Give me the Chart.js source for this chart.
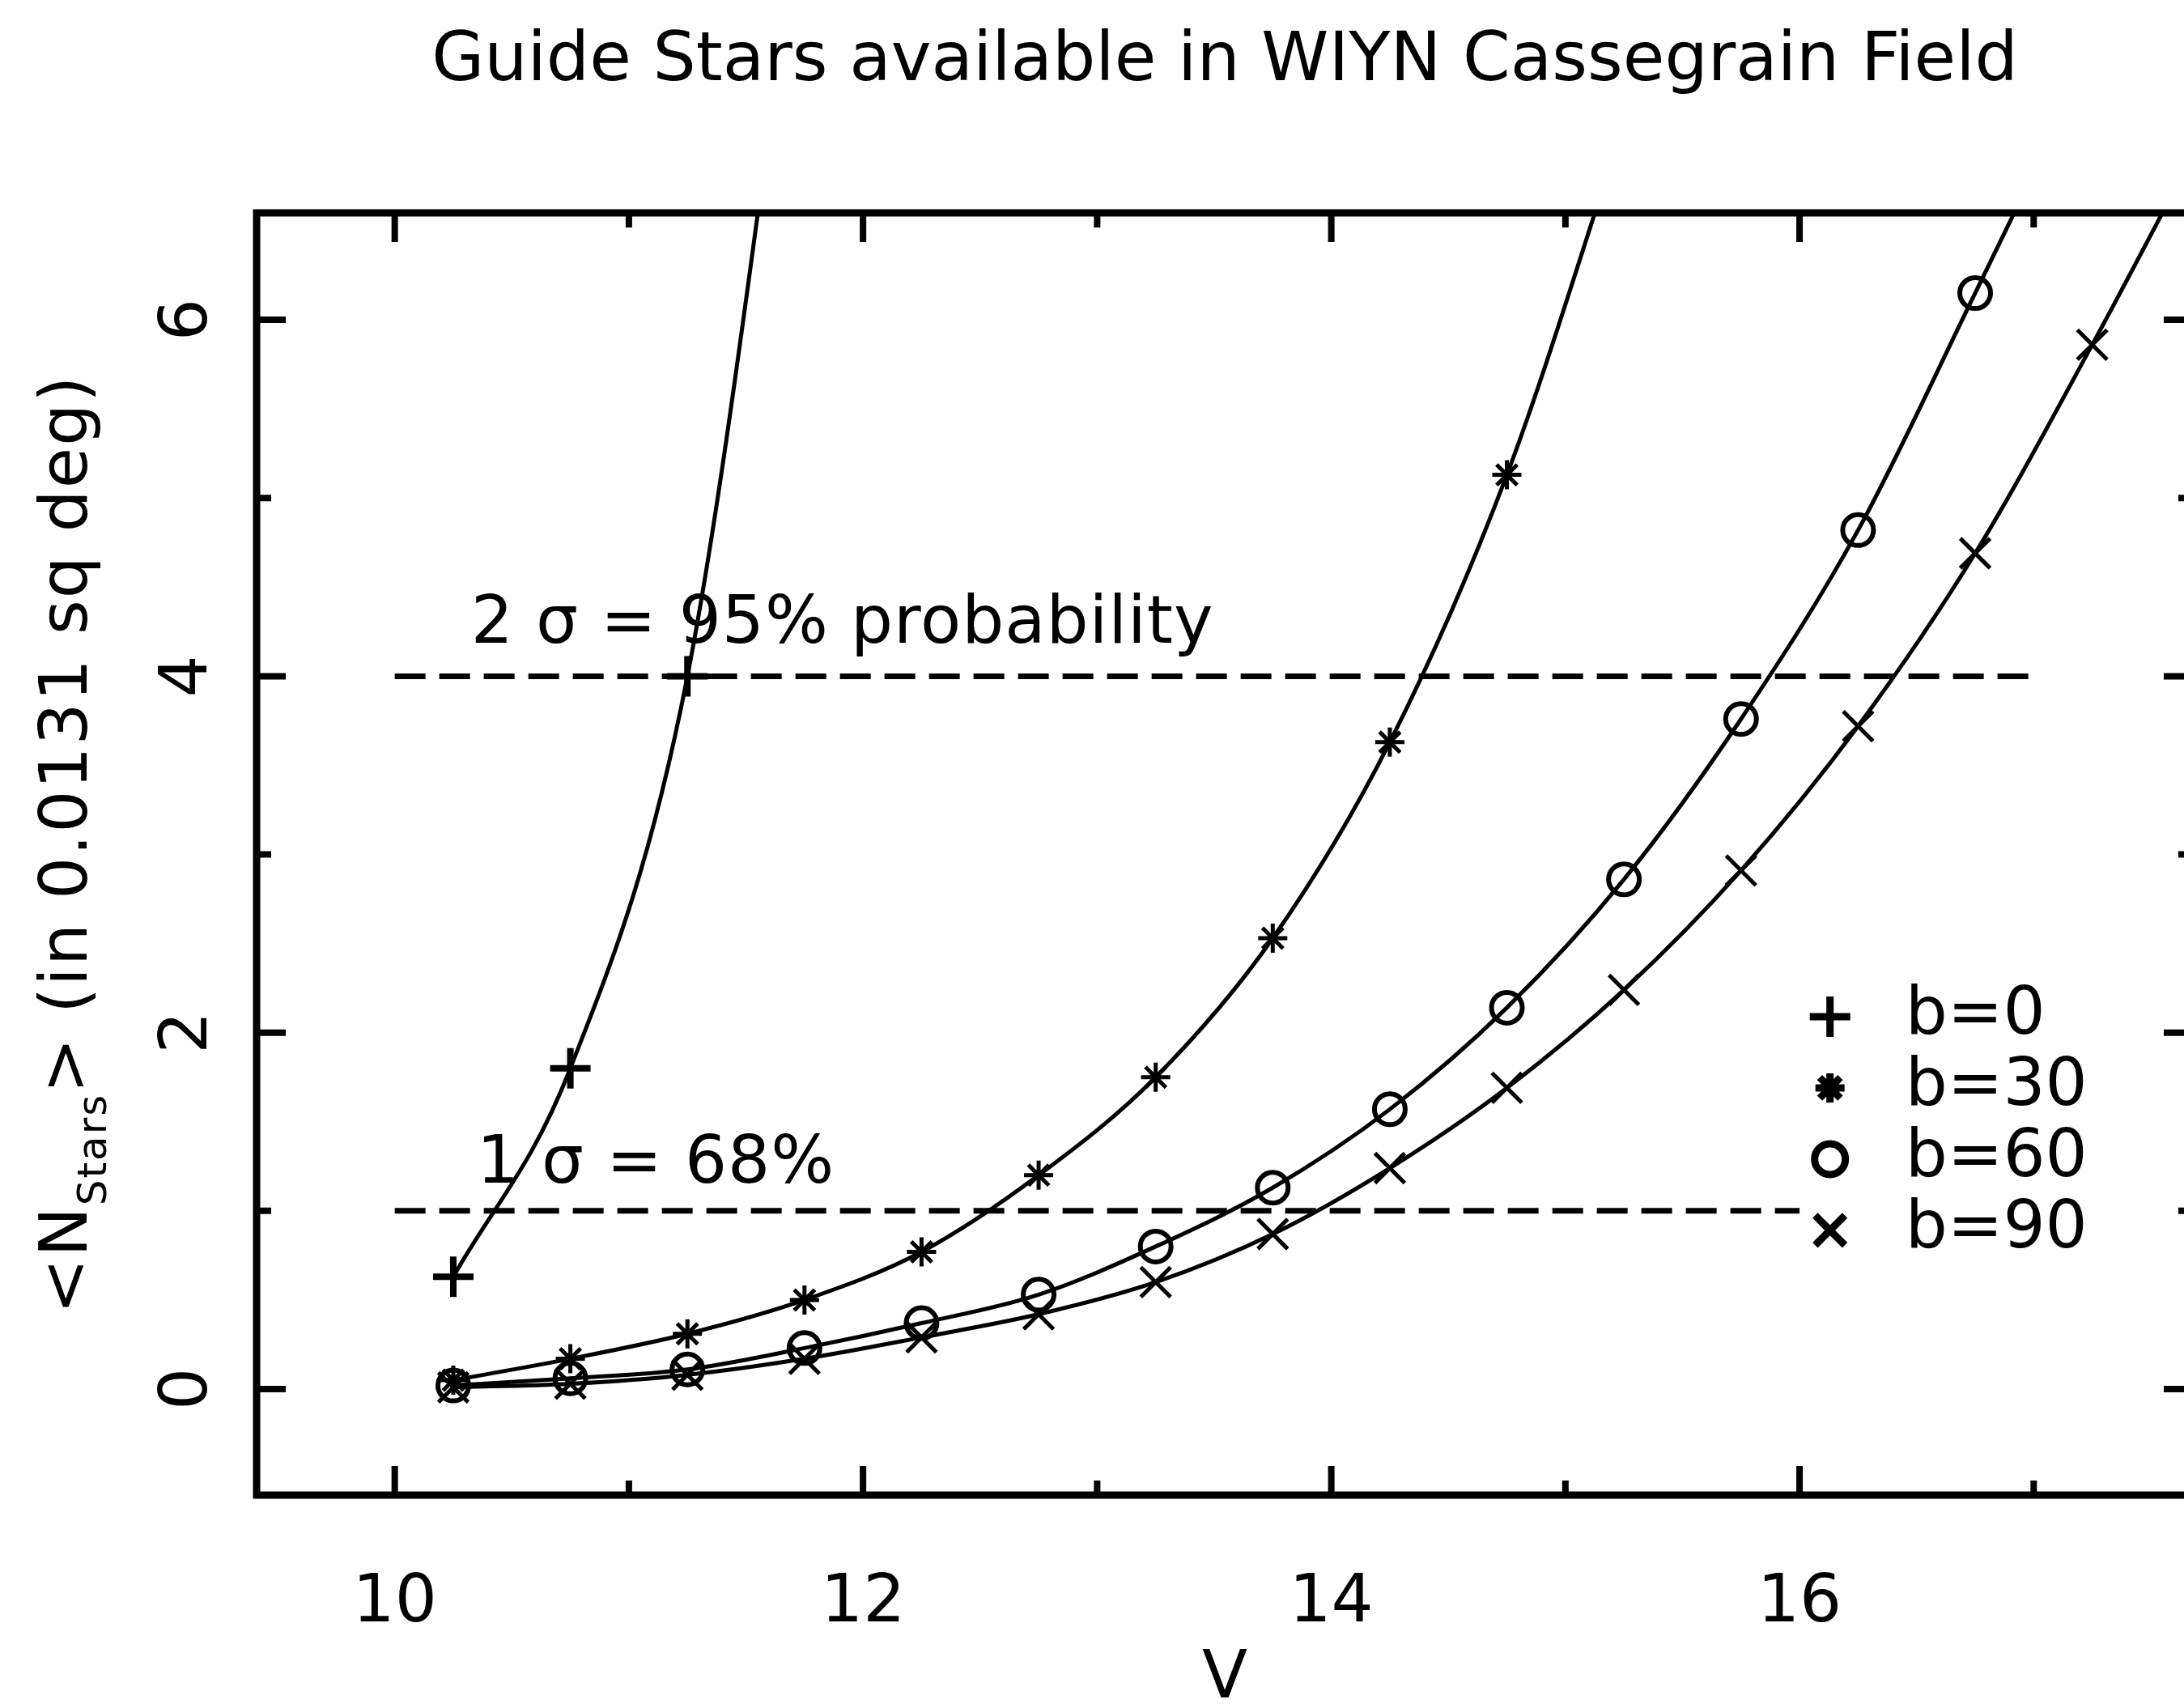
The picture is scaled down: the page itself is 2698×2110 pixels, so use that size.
<!DOCTYPE html>
<html>
<head>
<meta charset="utf-8">
<title>Guide Stars available in WIYN Cassegrain Field</title>
<script src="https://cdn.jsdelivr.net/npm/chart.js@4.4.1/dist/chart.umd.min.js"></script>
<style>
  html, body { margin: 0; padding: 0; background: #fff; overflow: hidden; }
  #wrap { width: 2698px; height: 2110px; overflow: hidden; }
  #guide-chart { display: block; }
</style>
</head>
<body>
<div id="wrap"><canvas id="guide-chart" width="2716" height="2110"></canvas></div>
<script>
// V magnitude bins (half-mag steps)
const magnitudes = [10.25, 10.75, 11.25, 11.75, 12.25, 12.75, 13.25, 13.75, 14.25, 14.75, 15.25, 15.75, 16.25, 16.75, 17.25, 17.75];
const latitudes = [0, 30, 60, 90];

// <N stars> in the field, one list per galactic latitude (last ones run off the top)
const starsB0 = [0.63, 1.80, 4.00, 8.5];
const starsB30 = [0.05, 0.17, 0.31, 0.50, 0.77, 1.20, 1.75, 2.53, 3.63, 5.13, 7.1];
const starsB60 = [0.02, 0.06, 0.11, 0.23, 0.37, 0.53, 0.80, 1.13, 1.57, 2.14, 2.86, 3.76, 4.82, 6.15, 7.5];
const starsB90 = [0.01, 0.03, 0.08, 0.17, 0.29, 0.42, 0.60, 0.87, 1.24, 1.69, 2.24, 2.91, 3.72, 4.69, 5.86, 7.1];

// probability thresholds
const sigmaLevels = [4, 1];
const sigmaFrom = 10;
const sigmaTo = [17, 16];
const sigmaNotes = ['2 σ = 95% probability', '1 σ = 68%'];

// axis ticks
const xMajorTicks = [10, 12, 14, 16];
const xMinorTicks = [11, 13, 15, 17];
const yMajorTicks = [0, 2, 4, 6];
const yMinorTicks = [1, 3, 5];

const FONT = '"DejaVu Sans", "Liberation Sans", Arial, sans-serif';
const FONT_SIZE = 82;

// layout bits (data units for anchors)
const noteAnchors = [{ x: 10.325, y: 4.19 }, { x: 10.35, y: 1.16 }];
const legendAnchor = { x: 16.13, y: 2.09 };

const markerStyles = [
  { pointStyle: 'cross', radius: 25, width: 8 },
  { pointStyle: 'star', radius: 18, width: 5 },
  { pointStyle: 'circle', radius: 19, width: 6 },
  { pointStyle: 'crossRot', radius: 26, width: 5 },
];

const seriesValues = [starsB0, starsB30, starsB60, starsB90];

const datasets = latitudes.map((b, i) => ({
  label: `b=${b}`,
  data: seriesValues[i].map((v, j) => ({ x: magnitudes[j], y: v })),
  borderColor: '#000',
  borderWidth: 5,
  cubicInterpolationMode: 'monotone',
  pointStyle: markerStyles[i].pointStyle,
  pointRadius: markerStyles[i].radius,
  pointBorderWidth: markerStyles[i].width,
  pointBorderColor: '#000',
  pointBackgroundColor: 'rgba(0,0,0,0)',
  fill: false,
}));

sigmaLevels.forEach((level, i) => {
  datasets.push({
    label: `sigma-${i}`,
    data: [{ x: sigmaFrom, y: level }, { x: sigmaTo[i], y: level }],
    borderColor: '#000',
    borderWidth: 7,
    borderDash: [38, 17],
    pointRadius: 0,
    fill: false,
  });
});

// frame, inward ticks, y title with subscript, notes and legend
const decorPlugin = {
  id: 'decor',
  afterDatasetsDraw(chart) {
    const { ctx, chartArea: a, scales: { x, y } } = chart;
    ctx.save();
    ctx.strokeStyle = '#000';
    ctx.fillStyle = '#000';
    ctx.lineCap = 'butt';

    // ticks
    ctx.lineWidth = 8;
    ctx.beginPath();
    const xTick = (v, len) => {
      const px = x.getPixelForValue(v);
      ctx.moveTo(px, a.bottom); ctx.lineTo(px, a.bottom - len);
      ctx.moveTo(px, a.top); ctx.lineTo(px, a.top + len);
    };
    const yTick = (v, len) => {
      const py = y.getPixelForValue(v);
      ctx.moveTo(a.left, py); ctx.lineTo(a.left + len, py);
      ctx.moveTo(a.right, py); ctx.lineTo(a.right - len, py);
    };
    xMajorTicks.forEach((v) => xTick(v, 36));
    xMinorTicks.forEach((v) => xTick(v, 18));
    yMajorTicks.forEach((v) => yTick(v, 36));
    yMinorTicks.forEach((v) => yTick(v, 18));
    ctx.stroke();

    // frame
    ctx.lineWidth = 9;
    ctx.strokeRect(a.left, a.top, a.right - a.left, a.bottom - a.top);

    // sigma notes
    ctx.font = `${FONT_SIZE}px ${FONT}`;
    ctx.letterSpacing = '1px';
    ctx.textBaseline = 'alphabetic';
    ctx.textAlign = 'left';
    sigmaNotes.forEach((t, i) => {
      ctx.fillText(t, x.getPixelForValue(noteAnchors[i].x), y.getPixelForValue(noteAnchors[i].y));
    });

    // legend inside the plot
    ctx.letterSpacing = '0px';
    const lx = x.getPixelForValue(legendAnchor.x);
    const ly = y.getPixelForValue(legendAnchor.y);
    latitudes.forEach((b, i) => {
      const ds = chart.data.datasets[i];
      const rowY = ly + i * 88;
      ctx.fillStyle = 'rgba(0,0,0,0)';
      Chart.helpers.drawPoint(ctx, {
        pointStyle: ds.pointStyle, radius: ds.pointRadius, borderWidth: ds.pointBorderWidth, rotation: 0,
      }, lx, rowY);
      ctx.fillStyle = '#000';
      ctx.textBaseline = 'middle';
      ctx.fillText(ds.label, lx + 93, rowY);
    });

    // y title: <N_Stars> (in 0.0131 sq deg)
    ctx.letterSpacing = '2px';
    const main = `${FONT_SIZE}px ${FONT}`;
    const sub = `50px ${FONT}`;
    const parts = [
      { t: '<N', f: main, dy: 0 },
      { t: 'Stars', f: sub, dy: 24 },
      { t: '> (in 0.0131 sq deg)', f: main, dy: 0 },
    ];
    let total = 0;
    parts.forEach((p) => { ctx.font = p.f; p.w = ctx.measureText(p.t).width; total += p.w; });
    ctx.translate(107, (a.top + a.bottom) / 2 - 12);
    ctx.rotate(-Math.PI / 2);
    ctx.textBaseline = 'alphabetic';
    let cx = -total / 2;
    parts.forEach((p) => {
      ctx.font = p.f;
      ctx.fillText(p.t, cx, p.dy);
      cx += p.w;
    });
    ctx.restore();
  },
};

new Chart(document.getElementById('guide-chart').getContext('2d'), {
  type: 'line',
  data: { datasets },
  options: {
    responsive: false,
    devicePixelRatio: 1,
    animation: false,
    events: [],
    layout: { autoPadding: false, padding: { left: 0, right: 7, top: 0, bottom: 0 } },
    plugins: {
      legend: { display: false },
      tooltip: { enabled: false },
      title: {
        display: true,
        fullSize: false,
        text: 'Guide Stars available in WIYN Cassegrain Field',
        color: '#000',
        font: { family: FONT, size: 84, weight: 'normal', lineHeight: 1 },
        padding: { top: 35, bottom: 144 },
      },
    },
    scales: {
      x: {
        type: 'linear',
        min: 9.41,
        max: 17.68,
        afterBuildTicks: (s) => { s.ticks = xMajorTicks.map((v) => ({ value: v })); },
        afterFit: (s) => { s.height = 263; },
        grid: { display: false, drawTicks: false },
        border: { display: false },
        ticks: {
          minRotation: 0,
          maxRotation: 0,
          padding: 86,
          color: '#000',
          font: { family: FONT, size: FONT_SIZE },
          callback: (v) => String(v),
        },
        title: {
          display: true,
          text: 'V',
          color: '#000',
          font: { family: FONT, size: FONT_SIZE, lineHeight: 0.84 },
          padding: { top: 0, bottom: 0 },
        },
      },
      y: {
        type: 'linear',
        min: -0.595,
        max: 6.6,
        afterBuildTicks: (s) => { s.ticks = yMajorTicks.map((v) => ({ value: v })); },
        afterFit: (s) => { s.width = 317; },
        grid: { display: false, drawTicks: false },
        border: { display: false },
        ticks: {
          minRotation: 90,
          maxRotation: 90,
          crossAlign: 'center',
          padding: 57,
          color: '#000',
          font: { family: FONT, size: FONT_SIZE },
        },
      },
    },
  },
  plugins: [decorPlugin],
});
</script>
</body>
</html>
